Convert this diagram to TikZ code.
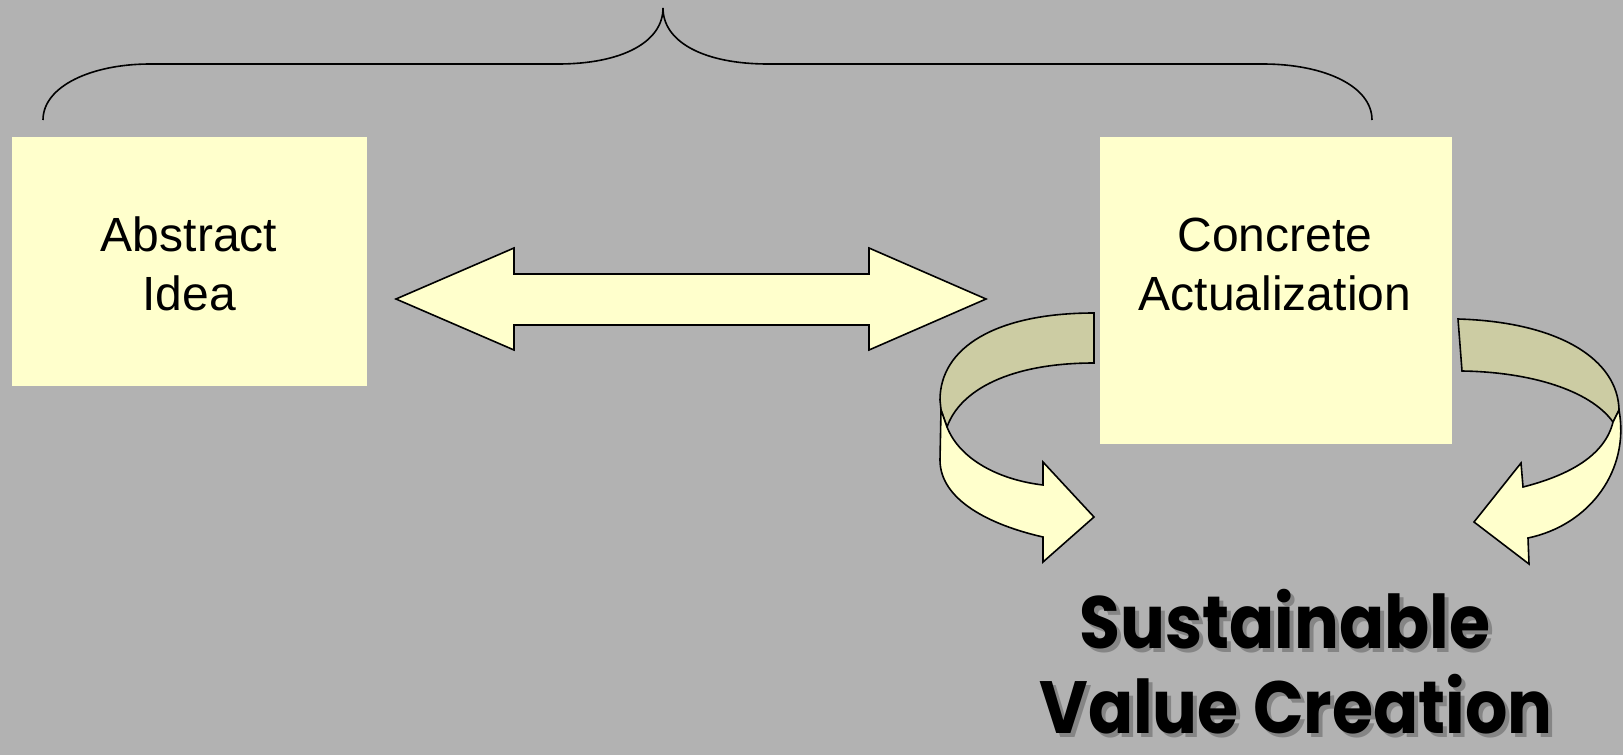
\documentclass[tikz,border=0pt]{standalone}
\usepackage{fontspec}
\usepackage{graphicx}
\setmainfont{Liberation Sans}
\newfontfamily\titlefont{Poppins}
\definecolor{bgc}{HTML}{B2B2B2}
\definecolor{paleyel}{HTML}{FFFFCC}
\definecolor{khaki}{HTML}{CCCCA3}
\definecolor{shadowc}{HTML}{858585}
\tikzset{
  box/.style={fill=paleyel, draw=none, inner sep=0pt},
  boxtext/.style={font=\fontsize{48}{59}\selectfont, align=center, inner sep=0pt, text=black},
  shape3d/.style={draw=black, line width=1.6pt, line join=miter},
  bigtext/.style={font=\titlefont\bfseries\fontsize{74}{85}\selectfont, inner sep=0pt, anchor=base},
}
\newcommand{\narrowtxt}[1]{\scalebox{0.9}[1]{#1}}
\begin{document}
\begin{tikzpicture}[x=1pt,y=-1pt]
\fill[bgc] (0,0) rectangle (1623,755);
\useasboundingbox (0,0) rectangle (1623,755);

% brace
\draw[line width=1.6pt] (43,120) .. controls (43,86) and (92,64) .. (150,64) -- (558,64)
  .. controls (622,64) and (663,42) .. (663,8)
  .. controls (663,42) and (704,64) .. (768,64) -- (1263,64)
  .. controls (1324,64) and (1372,86) .. (1372,120);

% boxes
\node[box, minimum width=355pt, minimum height=249pt] (abox) at (189.5,261.5) {};
\node[box, minimum width=352pt, minimum height=307pt] (cbox) at (1276,290.5) {};
\node[boxtext] (atext) at (189,264) {Abstract\\Idea};
\node[boxtext] (ctext) at (1275,264) {Concrete\\Actualization};

% double arrow
\draw[shape3d, fill=paleyel] (396,299) -- (514,248) -- (514,274) -- (869,274) -- (869,248)
  -- (986,299) -- (869,350) -- (869,325) -- (514,325) -- (514,350) -- cycle;

% left curved arrow: back band
\draw[shape3d, fill=khaki] (1094,313) .. controls (995,313) and (940,348) .. (940,400)
  -- (941,410) -- (947,427) .. controls (960,390) and (1010,363) .. (1094,363) -- cycle;
% left curved arrow: front
\draw[shape3d, fill=paleyel] (941,410) -- (947,427) .. controls (960,460) and (1000,480) .. (1043,485)
  -- (1043,462) -- (1094,517) -- (1043,562) -- (1043,537)
  .. controls (990,525) and (940,500) .. (940,460) -- cycle;

% right curved arrow: back band
\draw[shape3d, fill=khaki] (1458,319) .. controls (1560,322) and (1618,360) .. (1619,410)
  -- (1613,422) .. controls (1590,390) and (1530,372) .. (1462,371) -- cycle;
% right curved arrow: front
\draw[shape3d, fill=paleyel] (1613,422) -- (1619,410) .. controls (1630,470) and (1590,525) .. (1528,538)
  -- (1529,564) -- (1474,522) -- (1521,463) -- (1523,487)
  .. controls (1570,475) and (1605,455) .. (1613,422) -- cycle;

% big text with shadow
\node[bigtext, text=shadowc] (s1shadow) at (1289,652) {\narrowtxt{Sustainable}};
\node[bigtext, text=black] (s1) at (1285,648) {\narrowtxt{Sustainable}};
\node[bigtext, text=shadowc] (s2shadow) at (1300,737) {\narrowtxt{Value Creation}};
\node[bigtext, text=black] (s2) at (1296,733) {\narrowtxt{Value Creation}};
\end{tikzpicture}
\end{document}
